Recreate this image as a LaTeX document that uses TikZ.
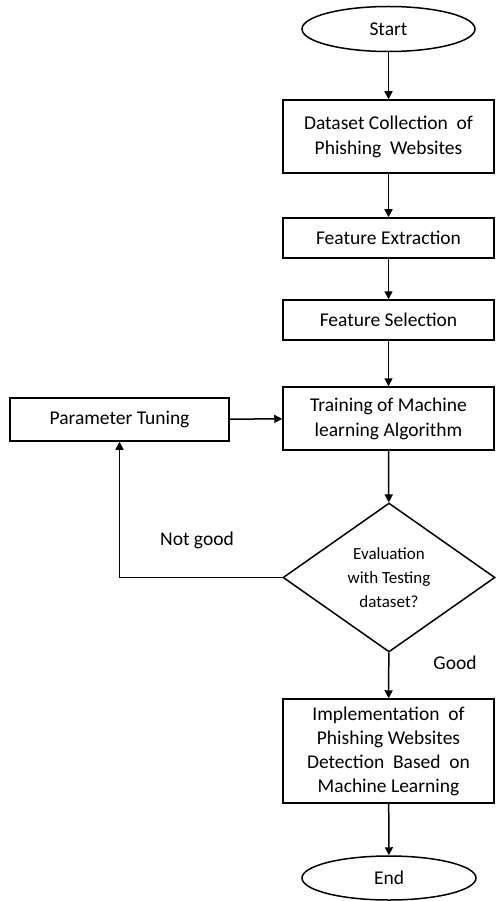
\documentclass[tikz,border=0pt]{standalone}
\usepackage{fontspec}
\setmainfont{Carlito}
\usetikzlibrary{shapes.geometric,arrows.meta}
\begin{document}
\begin{tikzpicture}[x=1pt,y=-1pt,line width=1.5pt,
    term/.style={draw,ellipse,inner sep=0pt,minimum width=173pt,minimum height=45pt,
        font=\fontsize{19.5}{25}\selectfont},
    box/.style={draw,rectangle,inner sep=0pt,minimum width=211pt,align=center,
        font=\fontsize{19.5}{25}\selectfont},
    decide/.style={draw,diamond,inner sep=0pt,minimum width=212pt,minimum height=149pt,
        align=center,font=\fontsize{17}{24}\selectfont},
    lbl/.style={font=\fontsize{19.5}{25}\selectfont},
    arr/.style={-{Triangle[length=8pt,width=8pt]}}]
    \useasboundingbox (0,0) rectangle (497,901);
    \node[term] (start) at (388.5,29) {Start};
    \node[box,minimum height=73pt] (collect) at (388.5,136.5) {Dataset Collection\ \ of\\Phishing\ \ Websites};
    \node[box,minimum height=40pt] (extract) at (388.5,238) {Feature Extraction};
    \node[box,minimum height=40pt] (select) at (388.5,320) {Feature Selection};
    \node[box,minimum height=63pt] (train) at (388.5,418.5) {Training of Machine\\learning Algorithm};
    \node[box,minimum width=219pt,minimum height=43pt] (tune) at (119.5,419.5) {Parameter Tuning};
    \node[decide] (eval) at (389,577.5) {Evaluation\\with Testing\\dataset?};
    \node[box,minimum height=104pt,font=\fontsize{19.5}{24}\selectfont] (impl) at (388.5,751) {Implementation\ \ of\\Phishing Websites\\Detection\ \ Based\ \ on\\Machine Learning};
    \node[term,minimum width=174pt,minimum height=44pt] (stop) at (389,878) {End};
    \node[lbl] (notgood) at (197,540) {Not good};
    \node[lbl] (good) at (455,663) {Good};
    % main flow
    \draw[arr] (start) -- (collect);
    \draw[arr] (collect) -- (extract);
    \draw[arr] (extract) -- (select);
    \draw[arr] (select) -- (train);
    \draw[arr] (train) -- (eval);
    \draw[arr] (eval) -- (impl);
    \draw[arr] (impl) -- (stop);
    % loop back
    \draw[arr] (eval.west) -| (tune.south);
    \draw[arr] (tune) -- (train);
\end{tikzpicture}
\end{document}
